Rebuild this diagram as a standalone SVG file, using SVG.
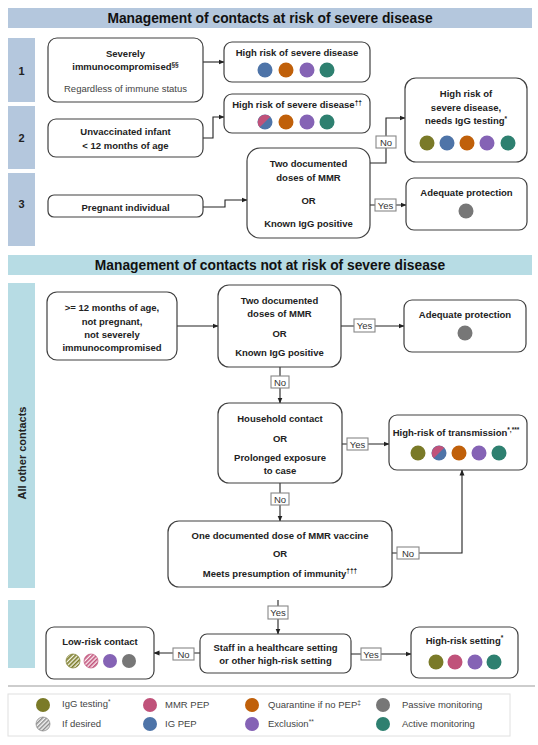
<svg xmlns="http://www.w3.org/2000/svg" width="538" height="745" viewBox="0 0 538 745">
<style>
text{font-family:"Liberation Sans",Arial,sans-serif;fill:#222;}
.b{font-weight:bold;font-size:9.5px;text-anchor:middle;}
.n{font-size:9.5px;text-anchor:middle;fill:#444;}
.hd{font-weight:bold;font-size:13.8px;text-anchor:middle;fill:#111;}
.num{font-weight:bold;font-size:11px;text-anchor:middle;}
.box{fill:#fff;stroke:#404040;stroke-width:1.2;}
.lbl{fill:#fff;stroke:#888;stroke-width:1.1;}
.lt{font-size:9.5px;text-anchor:middle;fill:#333;}
.lg{font-size:9.5px;fill:#444;}
.c{fill:none;stroke:#222;stroke-width:1.1;}
.sup{font-size:6.5px;}
</style>
<defs>
<marker id="ar" markerWidth="6" markerHeight="6" refX="5.5" refY="3" orient="auto" markerUnits="userSpaceOnUse">
<path d="M0,0.5 L6,3 L0,5.5 Z" fill="#222"/>
</marker>
<pattern id="hOl" width="3" height="3" patternUnits="userSpaceOnUse" patternTransform="rotate(45)"><rect width="3" height="3" fill="#f4f4e6"/><rect width="1.6" height="3" fill="#7a7a28"/></pattern>
<pattern id="hPk" width="3" height="3" patternUnits="userSpaceOnUse" patternTransform="rotate(45)"><rect width="3" height="3" fill="#fbecf1"/><rect width="1.6" height="3" fill="#c0527a"/></pattern>
<pattern id="hGr" width="3" height="3" patternUnits="userSpaceOnUse" patternTransform="rotate(45)"><rect width="3" height="3" fill="#f2f2f2"/><rect width="1.4" height="3" fill="#888"/></pattern>
</defs>

<!-- headers and side bars -->
<g id="header1">
<rect x="8" y="8" width="524" height="20" fill="#b4c7dd"/>
<text class="hd" x="270" y="23">Management of contacts at risk of severe disease</text>
</g>
<g id="bar1"><rect x="8" y="38" width="27" height="64" fill="#b4c7dd"/><text class="num" x="21.5" y="75">1</text></g>
<g id="bar2"><rect x="8" y="106" width="27" height="63" fill="#b4c7dd"/><text class="num" x="21.5" y="142">2</text></g>
<g id="bar3"><rect x="8" y="173" width="27" height="73" fill="#b4c7dd"/><text class="num" x="21.5" y="208">3</text></g>

<g id="header2">
<rect x="8" y="255" width="524" height="20" fill="#b7dce4"/>
<text class="hd" x="270" y="270">Management of contacts not at risk of severe disease</text>
</g>
<g id="bar4"><rect x="8" y="283" width="27" height="305" fill="#b7dce4"/>
<text class="num" transform="translate(25.5,453) rotate(-90)" x="0" y="0">All other contacts</text></g>
<g id="bar5"><rect x="8" y="600" width="27" height="68" fill="#b7dce4"/></g>

<!-- connectors -->
<g id="connectors">
<path class="c" d="M203,62 H224" marker-end="url(#ar)"/>
<path class="c" d="M203,138 H213 V117 H224" marker-end="url(#ar)"/>
<path class="c" d="M203,207 H225 V200 H247" marker-end="url(#ar)"/>
<path class="c" d="M370,163 H386 V118 H405" marker-end="url(#ar)"/>
<path class="c" d="M370,205 H406" marker-end="url(#ar)"/>
<path class="c" d="M177,326 H218" marker-end="url(#ar)"/>
<path class="c" d="M341,326 H404" marker-end="url(#ar)"/>
<path class="c" d="M280,367 V403" marker-end="url(#ar)"/>
<path class="c" d="M342,444 H389" marker-end="url(#ar)"/>
<path class="c" d="M280,483 V521" marker-end="url(#ar)"/>
<path class="c" d="M392,553 H462 V470" marker-end="url(#ar)"/>
<path class="c" d="M278,600 V634" marker-end="url(#ar)"/>
<path class="c" d="M200,653 H154" marker-end="url(#ar)"/>
<path class="c" d="M351,654 H411" marker-end="url(#ar)"/>
<rect class="lbl" x="376" y="136" width="20" height="12"/><text class="lt" x="386" y="145.5">No</text>
<rect class="lbl" x="375" y="199" width="21" height="12"/><text class="lt" x="385.5" y="208.5">Yes</text>
<rect class="lbl" x="354" y="319" width="21" height="13"/><text class="lt" x="364.5" y="329">Yes</text>
<rect class="lbl" x="271" y="376" width="18" height="12"/><text class="lt" x="280" y="385.5">No</text>
<rect class="lbl" x="347" y="438" width="21" height="12"/><text class="lt" x="357.5" y="447.5">Yes</text>
<rect class="lbl" x="271" y="493" width="18" height="12"/><text class="lt" x="280" y="502.5">No</text>
<rect class="lbl" x="397" y="547" width="22" height="12"/><text class="lt" x="408" y="556.5">No</text>
<rect class="lbl" x="268" y="606" width="20" height="13"/><text class="lt" x="278" y="616">Yes</text>
<rect class="lbl" x="173" y="648" width="21" height="12"/><text class="lt" x="183.5" y="657.5">No</text>
<rect class="lbl" x="361" y="648" width="20" height="12"/><text class="lt" x="371" y="657.5">Yes</text>
</g>

<!-- section 1 -->
<g id="n-immuno">
<rect class="box" x="48" y="38" width="155" height="64" rx="9"/>
<text class="b" x="125.5" y="56.5">Severely</text>
<text class="b" x="125.5" y="70">immunocompromised<tspan class="sup" dy="-3.5">§§</tspan></text>
<text class="n" x="125.5" y="92">Regardless of immune status</text>
</g>
<g id="n-hr1">
<rect class="box" x="224" y="42" width="146" height="40" rx="8"/>
<text class="b" x="297" y="55.5">High risk of severe disease</text>
<circle cx="265" cy="70" r="7.5" fill="#4e74a8"/>
<circle cx="286" cy="70" r="7.5" fill="#c0600a"/>
<circle cx="307" cy="70" r="7.5" fill="#8563b5"/>
<circle cx="327" cy="70" r="7.5" fill="#2e8070"/>
</g>

<!-- section 2 -->
<g id="n-infant">
<rect class="box" x="48" y="119" width="155" height="38" rx="8"/>
<text class="b" x="125.5" y="135">Unvaccinated infant</text>
<text class="b" x="125.5" y="149">&lt; 12 months of age</text>
</g>
<g id="n-hr2">
<rect class="box" x="224" y="94" width="146" height="39" rx="8"/>
<text class="b" x="297" y="108">High risk of severe disease<tspan class="sup" dy="-3.5">††</tspan></text>
<circle cx="265" cy="122" r="7.5" fill="#4e74a8"/>
<path d="M270.3,116.7 A7.5,7.5 0 0 0 259.7,127.3 Z" fill="#c0527a"/>
<circle cx="286" cy="122" r="7.5" fill="#c0600a"/>
<circle cx="307" cy="122" r="7.5" fill="#8563b5"/>
<circle cx="327" cy="122" r="7.5" fill="#2e8070"/>
</g>

<!-- section 3 -->
<g id="n-pregnant">
<rect class="box" x="48" y="195" width="155" height="22" rx="6"/>
<text class="b" x="125.5" y="210.5">Pregnant individual</text>
</g>
<g id="n-mmr1">
<rect class="box" x="247" y="148" width="123" height="90" rx="13"/>
<text class="b" x="308.5" y="166.5">Two documented</text>
<text class="b" x="308.5" y="180.5">doses of MMR</text>
<text class="b" x="308.5" y="203.5">OR</text>
<text class="b" x="308.5" y="226.5">Known IgG positive</text>
</g>
<g id="n-hr3">
<rect class="box" x="405" y="78" width="122" height="84" rx="11"/>
<text class="b" x="466" y="96.5">High risk of</text>
<text class="b" x="466" y="110.5">severe disease,</text>
<text class="b" x="466" y="124">needs IgG testing<tspan class="sup" dy="-3.5">*</tspan></text>
<circle cx="427" cy="143" r="7.5" fill="#7a7a28"/>
<circle cx="447" cy="143" r="7.5" fill="#4e74a8"/>
<circle cx="467" cy="143" r="7.5" fill="#c0600a"/>
<circle cx="487" cy="143" r="7.5" fill="#8563b5"/>
<circle cx="508" cy="143" r="7.5" fill="#2e8070"/>
</g>
<g id="n-adequate1">
<rect class="box" x="406" y="178" width="121" height="52" rx="8"/>
<text class="b" x="466.5" y="195.5">Adequate protection</text>
<circle cx="466" cy="211" r="7.5" fill="#777"/>
</g>

<!-- not at risk -->
<g id="n-other">
<rect class="box" x="47" y="292" width="130" height="68" rx="10"/>
<text class="b" x="112" y="310.5">&gt;= 12 months of age,</text>
<text class="b" x="112" y="324.5">not pregnant,</text>
<text class="b" x="112" y="337.5">not severely</text>
<text class="b" x="112" y="350.5">immunocompromised</text>
</g>
<g id="n-mmr2">
<rect class="box" x="218" y="285" width="123" height="82" rx="11"/>
<text class="b" x="279.5" y="303.5">Two documented</text>
<text class="b" x="279.5" y="316.5">doses of MMR</text>
<text class="b" x="279.5" y="336.5">OR</text>
<text class="b" x="279.5" y="355.5">Known IgG positive</text>
</g>
<g id="n-adequate2">
<rect class="box" x="404" y="300" width="122" height="52" rx="8"/>
<text class="b" x="465" y="317.5">Adequate protection</text>
<circle cx="465" cy="333" r="7.5" fill="#777"/>
</g>
<g id="n-household">
<rect class="box" x="218" y="403" width="124" height="80" rx="11"/>
<text class="b" x="280" y="421.5">Household contact</text>
<text class="b" x="280" y="441.5">OR</text>
<text class="b" x="280" y="460.5">Prolonged exposure</text>
<text class="b" x="280" y="473.5">to case</text>
</g>
<g id="n-transmission">
<rect class="box" x="389" y="415" width="138" height="55" rx="8"/>
<text class="b" x="456" y="435.5">High-risk of transmission<tspan class="sup" dy="-3.5">*,***</tspan></text>
<circle cx="418" cy="453" r="7.5" fill="#7a7a28"/>
<circle cx="439" cy="453" r="7.5" fill="#4e74a8"/>
<path d="M444.3,447.7 A7.5,7.5 0 0 0 433.7,458.3 Z" fill="#c0527a"/>
<circle cx="459" cy="453" r="7.5" fill="#c0600a"/>
<circle cx="479" cy="453" r="7.5" fill="#8563b5"/>
<circle cx="499" cy="453" r="7.5" fill="#2e8070"/>
</g>
<g id="n-onedose">
<rect class="box" x="168" y="521" width="224" height="66" rx="11"/>
<text class="b" x="280" y="538.5">One documented dose of MMR vaccine</text>
<text class="b" x="280" y="556.5">OR</text>
<text class="b" x="280" y="576.5">Meets presumption of immunity<tspan class="sup" dy="-3.5">†††</tspan></text>
</g>
<g id="n-staff">
<rect class="box" x="200" y="634" width="151" height="39" rx="7"/>
<text class="b" x="275.5" y="650.5">Staff in a healthcare setting</text>
<text class="b" x="275.5" y="663.5">or other high-risk setting</text>
</g>
<g id="n-lowrisk">
<rect class="box" x="46" y="627" width="108" height="52" rx="8"/>
<text class="b" x="100" y="644.5">Low-risk contact</text>
<circle cx="73" cy="661" r="7" fill="url(#hOl)" stroke="#7a7a28" stroke-width="0.7"/>
<circle cx="91" cy="661" r="7" fill="url(#hPk)" stroke="#c0527a" stroke-width="0.7"/>
<circle cx="110" cy="661" r="7" fill="#8563b5"/>
<circle cx="129" cy="661" r="7" fill="#777"/>
</g>
<g id="n-hrsetting">
<rect class="box" x="411" y="627" width="107" height="51" rx="8"/>
<text class="b" x="464.5" y="643.5">High-risk setting<tspan class="sup" dy="-3.5">*</tspan></text>
<circle cx="436" cy="662" r="7.5" fill="#7a7a28"/>
<circle cx="455" cy="662" r="7.5" fill="#c0527a"/>
<circle cx="475" cy="662" r="7.5" fill="#8563b5"/>
<circle cx="494" cy="662" r="7.5" fill="#2e8070"/>
</g>

<!-- legend -->
<g id="legend">
<line x1="8" y1="686" x2="535" y2="686" stroke="#bdbdbd" stroke-width="1.5"/>
<rect x="8" y="694" width="502" height="42" fill="#fff" stroke="#e0e0e0" stroke-width="1"/>
<circle cx="43" cy="705" r="7" fill="#7a7a28"/>
<text class="lg" x="62" y="707">IgG testing<tspan class="sup" dy="-3.5">*</tspan></text>
<circle cx="43" cy="724" r="7" fill="url(#hGr)" stroke="#888" stroke-width="0.7"/>
<text class="lg" x="62" y="727">If desired</text>
<circle cx="150" cy="705" r="7" fill="#c0527a"/>
<text class="lg" x="165" y="708">MMR PEP</text>
<circle cx="150" cy="724" r="7" fill="#4e74a8"/>
<text class="lg" x="165" y="727">IG PEP</text>
<circle cx="252" cy="705" r="7" fill="#c0600a"/>
<text class="lg" x="268" y="708">Quarantine if no PEP<tspan class="sup" dy="-3.5">‡</tspan></text>
<circle cx="252" cy="724" r="7" fill="#8563b5"/>
<text class="lg" x="268" y="727">Exclusion<tspan class="sup" dy="-3.5">**</tspan></text>
<circle cx="383" cy="705" r="7" fill="#777"/>
<text class="lg" x="402" y="708">Passive monitoring</text>
<circle cx="383" cy="724" r="7" fill="#2e8070"/>
<text class="lg" x="402" y="727">Active monitoring</text>
</g>
</svg>
